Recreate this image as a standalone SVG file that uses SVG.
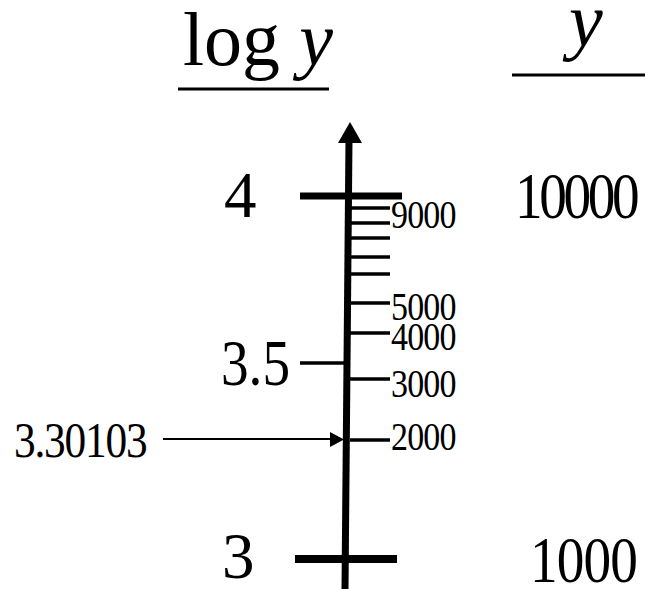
<svg xmlns="http://www.w3.org/2000/svg" width="653" height="589" viewBox="0 0 653 589">
<style>
text{font-family:"Liberation Serif","Times New Roman",serif;fill:#000}
.big{font-size:65px}
.mid{font-size:51px;letter-spacing:-1.4px}
.small{font-size:40px;letter-spacing:-1px}
.hdr{font-size:76px}
.it{font-style:italic}
line{stroke:#000}
.minor{stroke-width:3.5}
</style>
<g id="header-log">
<text class="hdr" x="183" y="65">log <tspan class="it">y</tspan></text>
<line x1="178" y1="89" x2="329" y2="89" stroke-width="3"/>
</g>
<g id="header-y">
<text class="hdr it" x="569" y="46">y</text>
<line x1="512" y1="75" x2="645" y2="75" stroke-width="3"/>
</g>
<g id="axis">
<line x1="349" y1="138" x2="345" y2="589" stroke-width="7"/>
<polygon points="350,122 362,143 338,143"/>
</g>
<g id="major-ticks">
<line x1="300" y1="196" x2="402" y2="196" stroke-width="7"/>
<line x1="295" y1="559" x2="397" y2="559" stroke-width="8"/>
<line x1="300" y1="363" x2="347" y2="363" stroke-width="3.5"/>
</g>
<g id="minor-ticks">
<line class="minor" x1="350" y1="208" x2="390" y2="208"/>
<line class="minor" x1="350" y1="223" x2="390" y2="223"/>
<line class="minor" x1="350" y1="238" x2="390" y2="238"/>
<line class="minor" x1="350" y1="257" x2="390" y2="257"/>
<line class="minor" x1="350" y1="274" x2="390" y2="274"/>
<line class="minor" x1="350" y1="303" x2="390" y2="303"/>
<line class="minor" x1="350" y1="333" x2="390" y2="333"/>
<line class="minor" x1="350" y1="379" x2="390" y2="379"/>
<line class="minor" x1="350" y1="440" x2="390" y2="440"/>
</g>
<g id="log-labels">
<text class="big" x="224" y="217">4</text>
<text class="big" transform="translate(221,385) scale(0.85,1)">3.5</text>
<text class="big" x="222" y="578">3</text>
</g>
<g id="y-labels">
<text class="big" transform="translate(515,218) scale(0.85,1)" style="letter-spacing:-4px">10000</text>
<text class="big" transform="translate(530,582) scale(0.85,1)" style="letter-spacing:-1px">1000</text>
<text class="small" transform="translate(391,228) scale(0.85,1)">9000</text>
<text class="small" transform="translate(391,320) scale(0.85,1)">5000</text>
<text class="small" transform="translate(391,350) scale(0.85,1)">4000</text>
<text class="small" transform="translate(391,397) scale(0.85,1)">3000</text>
<text class="small" transform="translate(391,450) scale(0.85,1)">2000</text>
</g>
<g id="pointer">
<text class="mid" transform="translate(14,457) scale(0.85,1)">3.30103</text>
</g>
<g id="connectors">
<line x1="163" y1="439" x2="332" y2="439" stroke-width="2"/>
<polygon points="344,439.5 330,432 330,447"/>
</g>
</svg>
